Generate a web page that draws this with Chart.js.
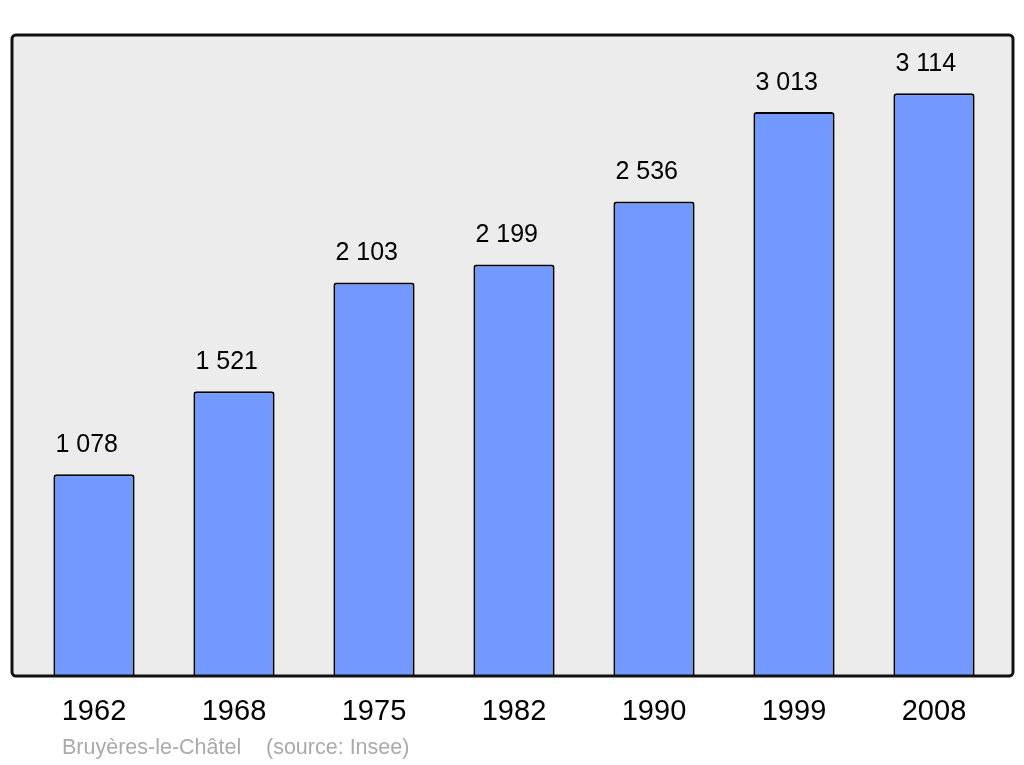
<!DOCTYPE html>
<html>
<head>
<meta charset="utf-8">
<script src="https://cdn.jsdelivr.net/npm/chart.js@4"></script>
<style>
  html, body { margin: 0; padding: 0; background: #fff; }
  #wrap { width: 1024px; height: 765px; position: relative; }
</style>
</head>
<body>
<div id="wrap"><canvas id="pop"></canvas></div>
<script>
const years = ["1962", "1968", "1975", "1982", "1990", "1999", "2008"];
const population = [1078, 1521, 2103, 2199, 2536, 3013, 3114];
const commune = "Bruyères-le-Châtel";
const source = "(source: Insee)";

// nombre avec espace comme séparateur de milliers
function fmt(n) {
    return String(n).replace(/\B(?=(\d{3})+(?!\d))/g, " ");
}

// fond gris arrondi derrière la zone du graphique
const panel = {
    id: "panel",
    beforeDraw(chart) {
        const { ctx, chartArea: a } = chart;
        const x = a.left - 12, y = a.top, w = a.right - a.left + 21, h = a.bottom - a.top;
        ctx.save();
        ctx.beginPath();
        ctx.roundRect(x, y, w, h, 4);
        ctx.fillStyle = "#ececec";
        ctx.fill();
        ctx.restore();
    },
    afterDatasetsDraw(chart) {
        const { ctx, chartArea: a } = chart;
        const x = a.left - 12, y = a.top, w = a.right - a.left + 21, h = a.bottom - a.top;
        ctx.save();
        ctx.beginPath();
        ctx.roundRect(x, y, w, h, 4);
        ctx.lineWidth = 3;
        ctx.strokeStyle = "#111";
        ctx.stroke();

        // valeurs au-dessus des barres, alignées à gauche sur la barre
        ctx.font = "25px 'Liberation Sans', Arial, sans-serif";
        ctx.fillStyle = "#000";
        ctx.textAlign = "left";
        ctx.textBaseline = "middle";
        chart.getDatasetMeta(0).data.forEach((bar, i) => {
            ctx.fillText(fmt(population[i]), bar.x - bar.width / 2 + 2, bar.y - 29);
        });

        // légende source
        ctx.font = "21.5px 'Liberation Sans', Arial, sans-serif";
        ctx.fillStyle = "#aaaaaa";
        ctx.textBaseline = "alphabetic";
        ctx.fillText(commune, a.left + 38, a.bottom + 78);
        ctx.fillText(source, a.left + 242, a.bottom + 78);
        ctx.restore();
    }
};

new Chart(document.getElementById("pop"), {
    type: "bar",
    data: {
        labels: years,
        datasets: [{
            data: population,
            backgroundColor: "#7299ff",
            borderColor: "#000",
            borderWidth: 2,
            borderSkipped: "bottom",
            borderRadius: { topLeft: 3, topRight: 3, bottomLeft: 0, bottomRight: 0 },
            barPercentage: 0.58,
            categoryPercentage: 1
        }]
    },
    options: {
        responsive: true,
        maintainAspectRatio: false,
        animation: false,
        layout: { padding: { top: 35, left: 24, right: 20, bottom: 0 } },
        plugins: {
            legend: { display: false },
            tooltip: { enabled: false }
        },
        scales: {
            x: {
                grid: { display: false },
                border: { display: false },
                ticks: {
                    color: "#000",
                    padding: 11,
                    font: { family: "'Liberation Sans', Arial, sans-serif", size: 29 }
                },
                afterFit(scale) { scale.height = 89; }
            },
            y: {
                display: false,
                min: 0,
                max: 3425
            }
        }
    },
    plugins: [panel]
});
</script>
</body>
</html>
